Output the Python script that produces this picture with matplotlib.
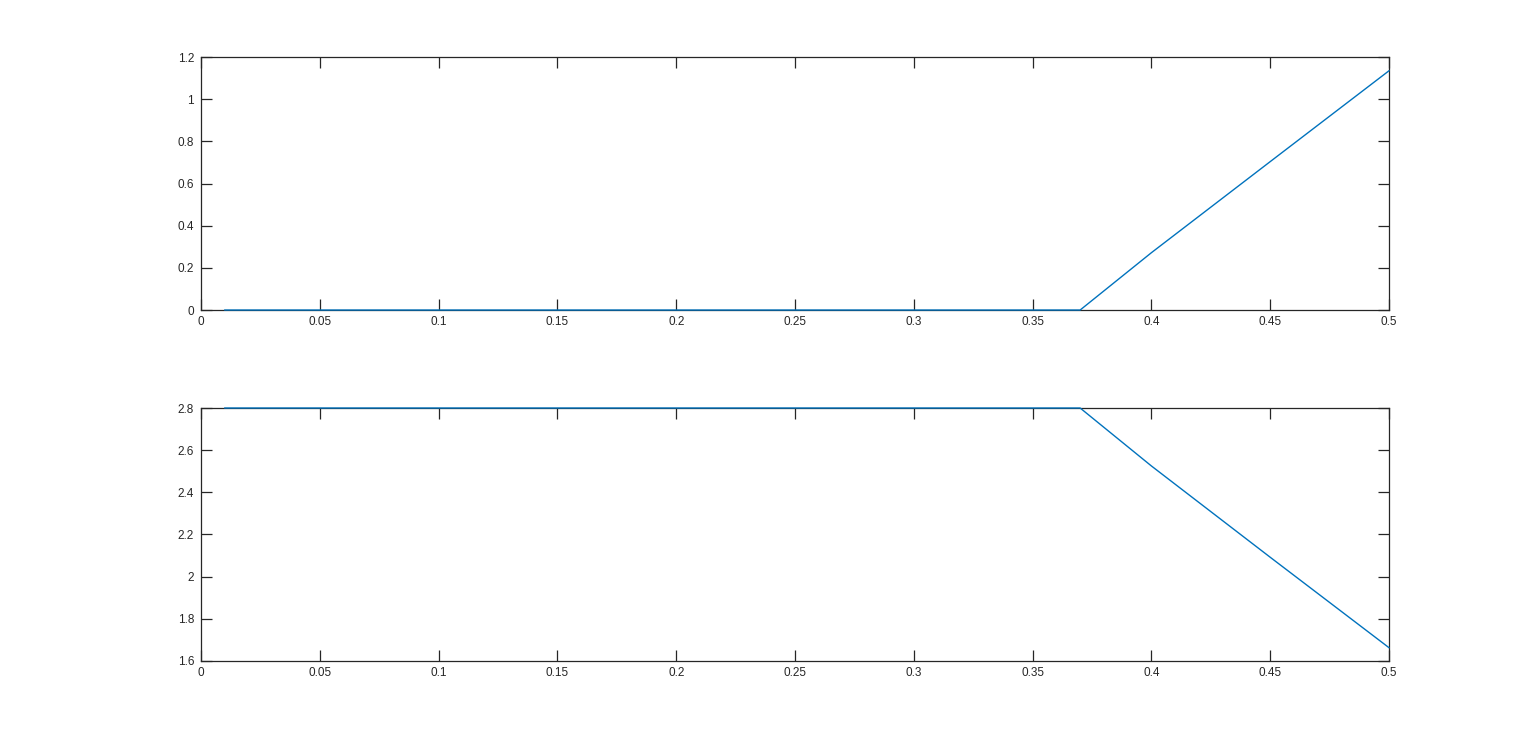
import matplotlib
matplotlib.use('Agg')
import matplotlib.pyplot as plt
from matplotlib.ticker import FuncFormatter

# values
x_vals = [0.01, 0.37, 0.40, 0.45, 0.50]
top_vals = [0.0, 0.0, 0.272, 0.704, 1.135]
bottom_vals = [2.8, 2.8, 2.525, 2.092, 1.663]

x_ticks = [0, 0.05, 0.1, 0.15, 0.2, 0.25, 0.3, 0.35, 0.4, 0.45, 0.5]
top_yticks = [0, 0.2, 0.4, 0.6, 0.8, 1, 1.2]
bottom_yticks = [1.6, 1.8, 2, 2.2, 2.4, 2.6, 2.8]

plt.rcParams['font.family'] = ['Liberation Sans', 'DejaVu Sans']
plt.rcParams['font.size'] = 8.5

fig = plt.figure(figsize=(15.36, 7.44), dpi=100)
ax1 = fig.add_axes([0.1309, 0.5833, 0.7734, 0.340])
ax2 = fig.add_axes([0.1309, 0.1116, 0.7734, 0.340])

fmt = FuncFormatter(lambda v, p: '%g' % round(v, 4))


def style(ax, yticks, ylim):
    ax.set_xlim(0, 0.5)
    ax.set_ylim(*ylim)
    ax.set_xticks(x_ticks)
    ax.set_yticks(yticks)
    ax.xaxis.set_major_formatter(fmt)
    ax.yaxis.set_major_formatter(fmt)
    ax.tick_params(direction='in', length=8, width=0.9, top=True, right=True,
                   colors='#262626', labelcolor='#262626', labelsize=8.5)
    ax.tick_params(axis='x', pad=4)
    ax.tick_params(axis='y', pad=5)
    for s in ax.spines.values():
        s.set_linewidth(0.9)
        s.set_color('#262626')


ax1.plot(x_vals, top_vals, color='#0072BD', lw=1.0, zorder=5, clip_on=False)
style(ax1, top_yticks, (0, 1.2))

ax2.plot(x_vals, bottom_vals, color='#0072BD', lw=1.0, zorder=5, clip_on=False)
style(ax2, bottom_yticks, (1.6, 2.8))

fig.savefig('out.png', dpi=100)
